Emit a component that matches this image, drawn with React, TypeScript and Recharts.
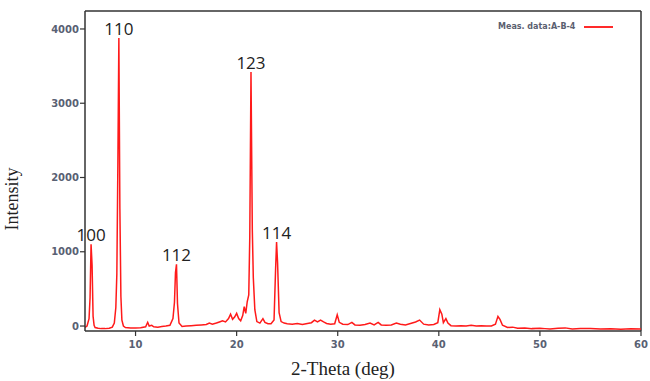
import React from 'react';
import {
  LineChart,
  Line,
  XAxis,
  YAxis,
  ReferenceLine,
  ReferenceDot,
} from 'recharts';

// 2-theta positions (deg) and measured intensity
const twoTheta = [
  5.0, 5.2, 5.4, 5.5, 5.6, 5.7, 5.8, 5.9, 6.0, 6.3, 6.6, 7.0, 7.4, 7.7, 7.9,
  8.05, 8.15, 8.25, 8.35, 8.45, 8.55, 8.65, 8.8, 9.0, 9.5, 10.0, 10.5, 11.0,
  11.2, 11.35, 11.6, 11.8, 12.2, 12.6, 13.0, 13.4, 13.7, 13.85, 13.95, 14.05,
  14.15, 14.3, 14.6, 15.0, 15.5, 16.0, 16.5, 17.0, 17.3, 17.6, 18.0, 18.3,
  18.6, 18.9, 19.2, 19.4, 19.6, 19.8, 20.0, 20.2, 20.4, 20.6, 20.75, 20.9,
  21.05, 21.2, 21.3, 21.42, 21.55, 21.65, 21.8, 22.0, 22.3, 22.6, 22.8, 23.1,
  23.4, 23.7, 23.85, 23.95, 24.05, 24.2, 24.4, 24.7, 25.0, 25.5, 26.0, 26.5,
  27.0, 27.4, 27.7, 28.0, 28.3, 28.6, 28.9, 29.3, 29.7, 29.95, 30.15, 30.5,
  31.0, 31.4, 31.7, 32.2, 32.7, 33.2, 33.6, 34.0, 34.3, 34.8, 35.3, 35.8,
  36.2, 36.7, 37.2, 37.7, 38.1, 38.5, 39.0, 39.5, 39.9, 40.1, 40.3, 40.45,
  40.7, 40.9, 41.2, 41.7, 42.2, 42.7, 43.2, 43.7, 44.2, 44.7, 45.2, 45.6,
  45.85, 46.05, 46.3, 46.8, 47.3, 47.8, 48.5, 49.2, 50.0, 50.5, 51.0, 51.8,
  52.5, 53.2, 54.0, 55.0, 56.0, 57.0, 58.0, 59.0, 60.0,
];

const intensity = [
  -20, 0, 100, 380, 1100, 820, 130, 10, -20, -30, -35, -35, -30, -15, 40,
  250, 700, 2150, 3880, 1580, 400, 80, 0, -20, -25, -25, -22, -10,
  50, 0, 10, -10, -15, -5, 0, 10, 100, 320, 720, 830,
  300, 40, -5, 0, 5, 10, 15, 20, 40, 25, 40, 55,
  70, 55, 100, 160, 90, 120, 170, 100, 70, 140, 260, 170,
  330, 420, 1200, 3420, 1300, 650, 220, 60, 40, 100, 50, 30,
  30, 80, 750, 1130, 850, 180, 60, 40, 30, 25, 35, 20,
  35, 45, 80, 55, 80, 55, 35, 25, 30, 150, 50, 25,
  20, 50, 15, 10, 20, 40, 15, 50, 15, 10, 15, 40,
  25, 15, 35, 55, 80, 25, 15, 20, 45, 220, 160, 45,
  100, 40, 5, 0, 5, 0, 10, 0, 5, 0, 0, 25,
  130, 90, 10, -20, -15, -30, -25, -35, -30, -35, -40, -30,
  -25, -40, -35, -35, -40, -38, -42, -38, -40,
];

// Miller index labels at the main reflections
const peakPos = [5.6, 8.35, 14.05, 21.42, 23.95];
const peakHeight = [1100, 3880, 830, 3420, 1130];
const peakNames = ['100', '110', '112', '123', '114'];

const xTicks = [10, 20, 30, 40, 50, 60];
const yTicks = [0, 1000, 2000, 3000, 4000];

const data = twoTheta.map((t, i) => ({ t, v: intensity[i] }));

const X_MIN = 5;
const X_MAX = 60;
const Y_MIN = -67;
const Y_MAX = 4242;

const tickStyle = {
  fontSize: 10,
  fontWeight: 'bold' as const,
  fontFamily: 'DejaVu Sans',
  fill: '#596173',
};

const LegendBox = () => (
  <div
    style={{
      position: 'absolute',
      left: 498,
      top: 22,
      display: 'flex',
      alignItems: 'center',
      fontFamily: 'DejaVu Sans',
      fontSize: 8,
      fontWeight: 'bold',
      color: '#5a6070',
      whiteSpace: 'nowrap',
    }}
  >
    <span>Meas. data:A-B-4</span>
    <span
      style={{
        display: 'inline-block',
        width: 29,
        height: 2,
        background: '#ff2a2a',
        marginLeft: 9,
      }}
    />
  </div>
);

const App: React.FC = () => {
  return (
    <div style={{ position: 'absolute', left: 0, top: 0, background: '#fff' }}>
      <LineChart
        width={650}
        height={381}
        data={data}
        margin={{ top: 11, right: 9, left: 0, bottom: 0 }}
      >
        <XAxis
          dataKey="t"
          type="number"
          domain={[X_MIN, X_MAX]}
          ticks={xTicks}
          allowDataOverflow
          tick={tickStyle}
          tickSize={5}
          tickMargin={5}
          height={50}
          axisLine={{ stroke: '#333', strokeWidth: 1.5 }}
          tickLine={{ stroke: '#333', strokeWidth: 1.2 }}
          label={{
            content: (p: any) => {
              const vb = p.viewBox;
              return (
                <text
                  x={vb.x + vb.width / 2 - 20}
                  y={vb.y + 44}
                  textAnchor="middle"
                  fontFamily="Liberation Serif"
                  fontSize={19}
                  fill="#222"
                >
                  2-Theta (deg)
                </text>
              );
            },
          }}
        />
        <YAxis
          type="number"
          domain={[Y_MIN, Y_MAX]}
          ticks={yTicks}
          allowDataOverflow
          tick={tickStyle}
          tickSize={5}
          tickMargin={1}
          width={85}
          axisLine={{ stroke: '#333', strokeWidth: 1.5 }}
          tickLine={{ stroke: '#333', strokeWidth: 1.2 }}
          label={{
            content: (p: any) => {
              const vb = p.viewBox;
              const cx = 12;
              const cy = vb.y + vb.height / 2 + 28;
              return (
                <text
                  x={cx}
                  y={cy}
                  transform={`rotate(-90 ${cx} ${cy})`}
                  textAnchor="middle"
                  dominantBaseline="central"
                  fontFamily="Liberation Serif"
                  fontSize={18}
                  fill="#222"
                >
                  Intensity
                </text>
              );
            },
          }}
        />
        <ReferenceLine y={Y_MAX} stroke="#333" strokeWidth={1.5} ifOverflow="visible" />
        <ReferenceLine x={X_MAX} stroke="#333" strokeWidth={1.5} ifOverflow="visible" />
        <Line
          type="linear"
          dataKey="v"
          name="Meas. data:A-B-4"
          stroke="#ff1a1a"
          strokeWidth={1.5}
          dot={false}
          isAnimationActive={false}
        />
        {peakPos.map((x, i) => (
          <ReferenceDot
            key={peakNames[i]}
            x={x}
            y={peakHeight[i]}
            r={0}
            fill="none"
            stroke="none"
            label={{
              value: peakNames[i],
              position: 'top',
              offset: 3,
              fontSize: 17,
              fontFamily: 'Open Sans',
              fill: '#222',
            }}
          />
        ))}
      </LineChart>
      <LegendBox />
    </div>
  );
};

export default App;
